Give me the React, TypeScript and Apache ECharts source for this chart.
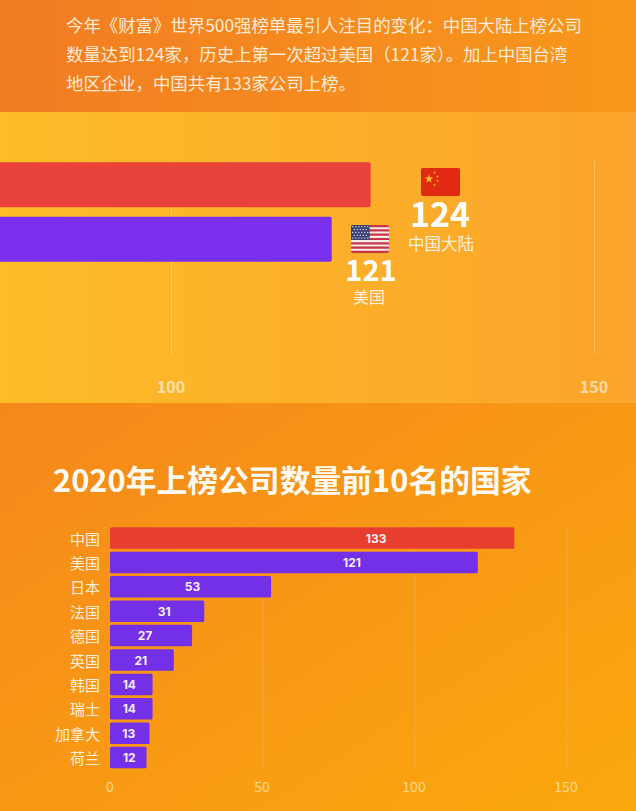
import React, { useEffect, useRef } from "react";
import * as echarts from "echarts";

const introLines = [
  "今年《财富》世界500强榜单最引人注目的变化：中国大陆上榜公司",
  "数量达到124家，历史上第一次超过美国（121家）。加上中国台湾",
  "地区企业，中国共有133家公司上榜。",
];
const topCategories = ["中国大陆", "美国"];
// Bar lengths as they read against the picture's own 100 / 150 axis.
const topBarValues = [123.6, 119];
const topLabels = ["124", "121"];
const chartTitle = "2020年上榜公司数量前10名的国家";
const countries = ["中国", "美国", "日本", "法国", "德国", "英国", "韩国", "瑞士", "加拿大", "荷兰"];
const companyCounts = [133, 121, 53, 31, 27, 21, 14, 14, 13, 12];

// Horizontal nudges of the in-bar labels, in pixels (layout, not data).
const labelNudges = [64, 58, 2, 7, -6, -1, -2, -2, -1, 1];

const CJK = '"Noto Sans CJK SC", "Noto Sans", sans-serif';
const RED = "#E83E30";
const PURPLE = "#7430E6";

function starPoints(cx: number, cy: number, r: number, rot = -Math.PI / 2) {
  const pts: number[][] = [];
  for (let i = 0; i < 10; i++) {
    const rad = i % 2 === 0 ? r : r * 0.4;
    const a = rot + (i * Math.PI) / 5;
    pts.push([cx + rad * Math.cos(a), cy + rad * Math.sin(a)]);
  }
  return pts;
}

function chinaFlag(x: number, y: number, w: number, h: number) {
  const children: any[] = [
    { type: "rect", shape: { x, y, width: w, height: h, r: 2 }, style: { fill: "#E12A14" } },
    { type: "polygon", shape: { points: starPoints(x + 8, y + 11, 4.6) }, style: { fill: "#FBBF24" } },
  ];
  [[13.5, 4.5], [16.5, 8.5], [16.5, 13], [13.5, 17]].forEach(([dx, dy]) =>
    children.push({ type: "polygon", shape: { points: starPoints(x + dx, y + dy, 1.4) }, style: { fill: "#FBBF24" } }),
  );
  return { type: "group", z: 20, children };
}

function usFlag(x: number, y: number, w: number, h: number) {
  const children: any[] = [
    { type: "rect", shape: { x, y, width: w, height: h, r: 2 }, style: { fill: "#C8334A" } },
  ];
  const sh = h / 13;
  for (let i = 1; i < 13; i += 2) {
    children.push({ type: "rect", shape: { x, y: y + i * sh, width: w, height: sh }, style: { fill: "#F6EDE6" } });
  }
  const cw = w * 0.49;
  const ch = sh * 7;
  children.push({ type: "rect", shape: { x, y, width: cw, height: ch, r: [2, 0, 0, 0] }, style: { fill: "#37406F" } });
  for (let r = 0; r < 5; r++) {
    for (let c = 0; c < 6 - (r % 2); c++) {
      children.push({
        type: "circle",
        shape: { cx: x + 1.8 + c * 3 + (r % 2) * 1.5, cy: y + 1.8 + r * 2.8, r: 0.65 },
        style: { fill: "#E8E6F0" },
      });
    }
  }
  return { type: "group", z: 20, children };
}

function txt(text: string, x: number, y: number, size: number, fill: string, weight: any = 400, align = "center") {
  return {
    type: "text",
    z: 20,
    style: { text, x, y, fill, font: `${weight} ${size}px ${CJK}`, align, verticalAlign: "middle" },
  };
}

function bg(y: number, height: number, stops: [string, string], diagonal = false) {
  return {
    type: "rect",
    z: -10,
    shape: { x: 0, y, width: 636, height },
    style: {
      fill: {
        type: "linear",
        x: 0,
        y: 0,
        x2: 1,
        y2: diagonal ? 1 : 0,
        colorStops: [
          { offset: 0, color: stops[0] },
          { offset: 1, color: stops[1] },
        ],
      },
    },
  };
}

export default function App() {
  const ref = useRef<HTMLDivElement>(null);

  useEffect(() => {
    document.body.style.margin = "0";
    const chart = echarts.init(ref.current!, undefined, { renderer: "svg" });
    chart.setOption({
      animation: false,
      backgroundColor: "#F58C1A",
      graphic: [
        bg(0, 112, ["#F27C22", "#F8981B"]),
        bg(112, 291, ["#FDBC28", "#FBA42B"]),
        bg(403, 408, ["#F5881B", "#FBA80E"], true),
        ...introLines.map((l, i) => txt(l, 66, [24, 53, 82][i], 17.4, "#FCEBD6", 400, "left")),
        txt(chartTitle, 53, 478, 30.8, "#FFFBF3", 700, "left"),
        chinaFlag(421, 168, 39, 28),
        txt(topLabels[0], 440, 212, 34, "#FFFFFF", 700),
        txt(topCategories[0], 441, 243, 16.5, "#FDF0DC"),
        usFlag(351, 225, 38, 28),
        txt(topLabels[1], 371, 268, 29, "#FFFFFF", 700),
        txt(topCategories[1], 369, 296, 16, "#FDF0DC"),
      ],
      grid: [
        { left: -252, width: 846, top: 161, height: 193, outerBoundsMode: "none" },
        { left: -252, width: 846, top: 157.5, height: 109, outerBoundsMode: "none" },
        { left: 110, width: 456, top: 525.8, height: 244, outerBoundsMode: "none" },
      ],
      xAxis: [
        {
          gridIndex: 0,
          type: "value",
          min: 50,
          max: 150,
          interval: 50,
          axisLine: { show: false },
          axisTick: { show: false },
          splitLine: { show: true, lineStyle: { color: "rgba(255,255,255,0.28)", width: 1 } },
          axisLabel: {
            margin: 24,
            fontFamily: CJK,
            fontSize: 16,
            fontWeight: 700,
            color: "rgba(255,255,255,0.6)",
            formatter: (v: number) => (v === 50 ? "" : String(v)),
          },
        },
        { gridIndex: 1, type: "value", min: 50, max: 150, interval: 50, show: false },
        {
          gridIndex: 2,
          type: "value",
          min: 0,
          max: 150,
          interval: 50,
          axisLine: { show: false },
          axisTick: { show: false },
          splitLine: { show: true, lineStyle: { color: "rgba(255,255,255,0.13)", width: 1 } },
          axisLabel: { margin: 9, fontFamily: CJK, fontSize: 14, color: "#FCD98E" },
        },
      ],
      yAxis: [
        { gridIndex: 0, type: "value", min: 0, max: 1, show: false },
        { gridIndex: 1, type: "category", inverse: true, data: topCategories, show: false },
        {
          gridIndex: 2,
          type: "category",
          inverse: true,
          data: countries,
          axisLine: { show: false },
          axisTick: { show: false },
          axisLabel: { margin: 10, fontFamily: CJK, fontSize: 15, color: "#FDEEDA" },
        },
      ],
      series: [
        {
          type: "bar",
          xAxisIndex: 1,
          yAxisIndex: 1,
          barWidth: 45,
          data: topBarValues.map((value, i) => ({
            value,
            itemStyle: { color: i === 0 ? "#E8423A" : "#7B2FEE", borderRadius: 2 },
          })),
        },
        {
          type: "bar",
          xAxisIndex: 2,
          yAxisIndex: 2,
          barWidth: 21.5,
          data: companyCounts.map((value, i) => ({
            value,
            itemStyle: { color: i === 0 ? RED : PURPLE, borderRadius: 1.5 },
            label: {
              show: true,
              position: "inside",
              offset: [labelNudges[i], 0],
              fontFamily: "Inter, sans-serif",
              fontSize: 12,
              fontWeight: 700,
              color: "#F7EDF7",
            },
          })),
        },
      ],
    });
    return () => chart.dispose();
  }, []);

  return <div ref={ref} style={{ width: 636, height: 811 }} />;
}
